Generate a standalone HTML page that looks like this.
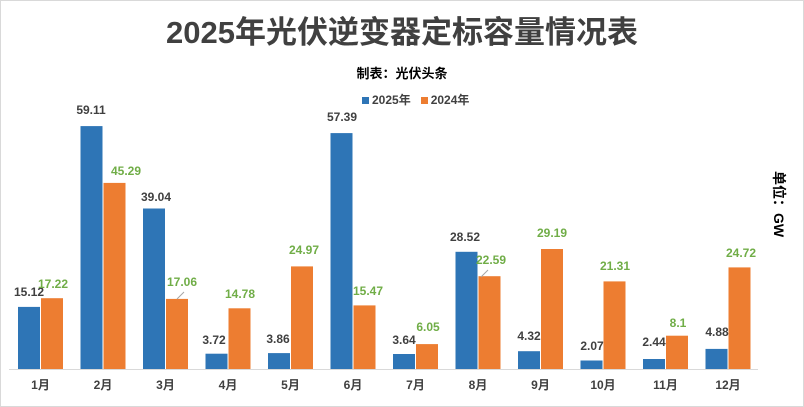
<!DOCTYPE html>
<html><head><meta charset="utf-8"><style>
body{margin:0;background:#fff}
.c{position:relative;width:802px;height:405px;border:1px solid #d9d9d9;overflow:hidden;font-family:"Liberation Sans","Noto Sans CJK SC",sans-serif}
.t{position:absolute;left:0;width:802px;text-align:center;top:6px;font-size:31px;font-weight:bold;color:#404040}
.s{position:absolute;left:0;width:802px;text-align:center;top:62px;font-size:13px;font-weight:bold;color:#000}
.lg{position:absolute;top:90px;left:361px;font-size:12px;font-weight:bold;color:#404040}
.lg i{display:inline-block;width:7px;height:7px;margin-right:3px}
.u{position:absolute;left:768px;top:170px;font-size:14px;font-weight:bold;color:#000;writing-mode:vertical-rl;text-orientation:sideways}
</style></head><body><div class="c">
<div class="t">2025年光伏逆变器定标容量情况表</div>
<div class="s">制表：光伏头条</div>
<div class="lg"><i style="background:#2e75b6"></i>2025年&nbsp;&nbsp;&nbsp;<i style="background:#ed7d31"></i>2024年</div>
<div class="u">单位：GW</div>
<svg width="802" height="405" style="position:absolute;left:0;top:0" font-family="Liberation Sans,Noto Sans CJK SC,sans-serif" font-weight="bold" font-size="12">
<g fill="#2e75b6">
<rect x="17" y="305.9" width="22" height="62.1"/>
<rect x="79.5" y="125.1" width="22" height="242.9"/>
<rect x="142" y="207.5" width="22" height="160.5"/>
<rect x="204.5" y="352.7" width="22" height="15.3"/>
<rect x="267" y="352.1" width="22" height="15.9"/>
<rect x="329.5" y="132.1" width="22" height="235.9"/>
<rect x="392" y="353" width="22" height="15"/>
<rect x="454.5" y="250.8" width="22" height="117.2"/>
<rect x="517" y="350.2" width="22" height="17.8"/>
<rect x="579.5" y="359.5" width="22" height="8.5"/>
<rect x="642" y="358" width="22" height="10"/>
<rect x="704.5" y="347.9" width="22" height="20.1"/>
</g>
<g fill="#ed7d31">
<rect x="40" y="297.2" width="22" height="70.8"/>
<rect x="102.5" y="181.9" width="22" height="186.1"/>
<rect x="165" y="297.9" width="22" height="70.1"/>
<rect x="227.5" y="307.3" width="22" height="60.7"/>
<rect x="290" y="265.4" width="22" height="102.6"/>
<rect x="352.5" y="304.4" width="22" height="63.6"/>
<rect x="415" y="343.1" width="22" height="24.9"/>
<rect x="477.5" y="275.2" width="22" height="92.8"/>
<rect x="540" y="248" width="22" height="120"/>
<rect x="602.5" y="280.4" width="22" height="87.6"/>
<rect x="665" y="334.7" width="22" height="33.3"/>
<rect x="727.5" y="266.4" width="22" height="101.6"/>
</g>
<line x1="8" y1="368.5" x2="757" y2="368.5" stroke="#d9d9d9"/>
<line x1="176" y1="298" x2="183" y2="291" stroke="#a6a6a6"/>
<line x1="480" y1="276" x2="487" y2="269" stroke="#a6a6a6"/>
<g text-anchor="middle" fill="#404040">
<text x="28" y="295">15.12</text><text x="90" y="113">59.11</text><text x="155" y="200">39.04</text>
<text x="213" y="343">3.72</text><text x="277" y="342">3.86</text><text x="341" y="120">57.39</text>
<text x="403" y="343">3.64</text><text x="464" y="240">28.52</text><text x="528" y="339">4.32</text>
<text x="591" y="349">2.07</text><text x="653" y="345">2.44</text><text x="716" y="335">4.88</text>
</g>
<g text-anchor="middle" fill="#70ad47">
<text x="52" y="287">17.22</text><text x="125" y="174">45.29</text><text x="181" y="285">17.06</text>
<text x="239" y="297">14.78</text><text x="303" y="253">24.97</text><text x="367" y="294">15.47</text>
<text x="427" y="330">6.05</text><text x="490" y="263">22.59</text><text x="551" y="236">29.19</text>
<text x="614" y="269">21.31</text><text x="677" y="326">8.1</text><text x="740" y="256">24.72</text>
</g>
<g text-anchor="middle" fill="#404040">
<text x="39.5" y="388">1月</text><text x="102" y="388">2月</text><text x="164.5" y="388">3月</text>
<text x="227" y="388">4月</text><text x="289.5" y="388">5月</text><text x="352" y="388">6月</text>
<text x="414.5" y="388">7月</text><text x="477" y="388">8月</text><text x="539.5" y="388">9月</text>
<text x="602" y="388">10月</text><text x="664.5" y="388">11月</text><text x="727" y="388">12月</text>
</g>
</svg></div></body></html>
